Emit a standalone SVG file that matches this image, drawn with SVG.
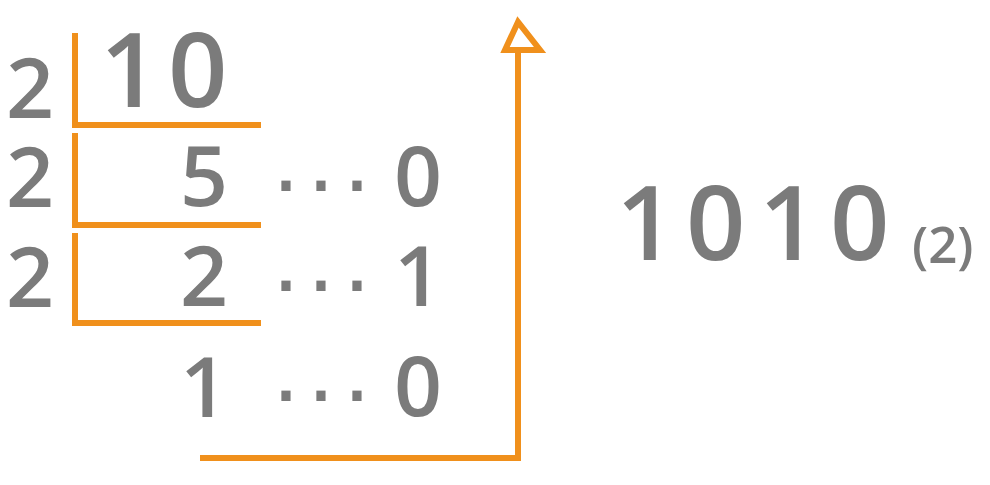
<svg xmlns="http://www.w3.org/2000/svg" width="990" height="485" viewBox="0 0 990 485">
<defs>
<style>
.t{font-family:"Open Sans","Noto Sans","Liberation Sans",sans-serif;font-weight:600;fill:#7b7b7b}
.d{font-family:"Liberation Sans","Arial",sans-serif;font-size:96px;fill:#7b7b7b}
.m{font-size:84px}
.b{font-size:104px}
.s{font-size:51px}
.o{fill:none;stroke:#f0901c;stroke-width:6}
</style>
</defs>
<rect width="990" height="485" fill="#fff"/>
<g id="divisors">
<text class="t m" x="6" y="118">2</text>
<text class="t m" x="6" y="207">2</text>
<text class="t m" x="6" y="307">2</text>
</g>
<g id="brackets">
<path class="o" d="M75 33V125H261"/>
<path class="o" d="M75 133V225H261"/>
<path class="o" d="M75 233V323H261"/>
</g>
<g id="quotients">
<text class="t b" x="100 168" y="107">10</text>
<text class="t m" x="180" y="206">5</text>
<text class="t m" x="180" y="306">2</text>
<text class="t m" x="180" y="417">1</text>
</g>
<g id="remainders">
<text class="d" x="270 305 341" y="212">···</text>
<text class="t m" x="394" y="206">0</text>
<text class="d" x="270 305 341" y="312">···</text>
<text class="t m" x="394" y="306">1</text>
<text class="d" x="270 305 341" y="422">···</text>
<text class="t m" x="394" y="416">0</text>
</g>
<g id="connectors">
<path class="o" d="M200 458H518V50"/>
<path class="o" d="M518 22L505 50H540Z" stroke-width="7"/>
</g>
<g id="result">
<text class="t b" x="616 686 759 830" y="260">1010</text>
<text class="t s" x="912" y="263">(2)</text>
</g>
</svg>
